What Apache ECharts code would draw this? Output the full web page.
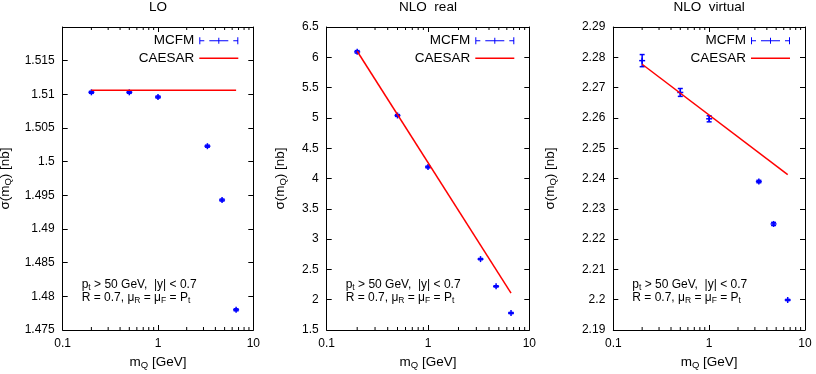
<!DOCTYPE html>
<html>
<head>
<meta charset="utf-8">
<script src="https://cdn.jsdelivr.net/npm/echarts@6/dist/echarts.min.js"></script>
<style>html,body{margin:0;padding:0;background:#fff;}</style>
</head>
<body>
<div id="chart" style="width:816px;height:374px;"></div>
<script>
    // data
    var mQ = [0.2, 0.5, 1, 3.3, 4.7, 6.6];
    var loMcfm = [1.5103, 1.5103, 1.5096, 1.5023, 1.4943, 1.4780];
    var loErr = [0.00015, 0.00015, 0.00015, 0.00015, 0.00015, 0.00015];
    var realMcfm = [6.09, 5.04, 4.19, 2.67, 2.22, 1.78];
    var realErr = [0.02, 0.015, 0.015, 0.01, 0.01, 0.01];
    var virtMcfm = [2.2789, 2.2684, 2.2597, 2.2390, 2.2250, 2.1999];
    var virtErr = [0.002, 0.0013, 0.001, 0.0004, 0.0005, 0.0002];
    var caesarX = [0.2, 6.6];
    var loCaesar = [1.5106, 1.5106];
    var realCaesar = [6.1, 2.11];
    var virtCaesar = [2.2777, 2.2413];
    var minorTicks = [0.2, 0.3, 0.4, 0.5, 0.6, 0.7, 0.8, 0.9, 2, 3, 4, 5, 6, 7, 8, 9];
    var panelTitles = ['LO', 'NLO  real', 'NLO  virtual'];
    var noteLines = [
        '{n|p}{s|t}{n| > 50 GeV,  |y| < 0.7}',
        '{n|R = 0.7, \u03bc}{s|R}{n| = \u03bc}{s|F}{n| = P}{s|t}'
    ];
    var yMins = [1.475, 1.5, 2.19];
    var yMaxs = [1.52, 6.5, 2.29];
    var ySteps = [0.005, 0.5, 0.01];

    // layout
    var gridLeft = [62.7, 326.7, 613.3];
    var gridWidth = [190.6, 202.6, 191.7];
    var nameGaps = [49, 38.4, 55];
    var FONT = 'Liberation Sans, Arial, Helvetica, sans-serif';
    var BLUE = '#0000ff', RED = '#ff0000';

    var mcfmIcon = 'path://M0,0h1v7h-1z M1,3h4v1h-4z M10,3h19v1h-19z M19,0.5h1v6h-1z M34,3h4v1h-4z M38,0h1v7h-1z';
    var caesarIcon = 'path://M0,0h39v1.5h-39z';

    var panels = [
        {y: loMcfm, err: loErr, c: loCaesar},
        {y: realMcfm, err: realErr, c: realCaesar},
        {y: virtMcfm, err: virtErr, c: virtCaesar}
    ];

    var subRich = {
        n: {fontSize: 13.5, fontFamily: FONT, color: '#000', lineHeight: 16},
        s: {fontSize: 9.5, fontFamily: FONT, color: '#000', lineHeight: 9, verticalAlign: 'bottom'}
    };
    var smallRich = {
        n: {fontSize: 12, fontFamily: FONT, color: '#000', lineHeight: 15},
        s: {fontSize: 8.5, fontFamily: FONT, color: '#000', lineHeight: 8, verticalAlign: 'bottom'}
    };

    function errorItem(params, api) {
        var x = api.value(0), y = api.value(1), e = api.value(2);
        var c = api.coord([x, y]);
        var hi = api.coord([x, y + e]);
        var lo = api.coord([x, y - e]);
        var w = 2.5, m = 3;
        var st = {stroke: BLUE, lineWidth: 1.5};
        return {type: 'group', children: [
            {type: 'line', shape: {x1: c[0], y1: hi[1], x2: c[0], y2: lo[1]}, style: st},
            {type: 'line', shape: {x1: c[0] - w, y1: hi[1], x2: c[0] + w, y2: hi[1]}, style: st},
            {type: 'line', shape: {x1: c[0] - w, y1: lo[1], x2: c[0] + w, y2: lo[1]}, style: st},
            {type: 'line', shape: {x1: c[0] - m, y1: c[1], x2: c[0] + m, y2: c[1]}, style: st},
            {type: 'line', shape: {x1: c[0], y1: c[1] - m, x2: c[0], y2: c[1] + m}, style: st}
        ]};
    }

    function minorTickItem(params, api) {
        var cs = params.coordSys;
        var px = api.coord([api.value(0), api.value(1)])[0];
        var st = {stroke: '#000', lineWidth: 1};
        return {type: 'group', children: [
            {type: 'line', shape: {x1: px, y1: cs.y + cs.height, x2: px, y2: cs.y + cs.height - 3}, style: st},
            {type: 'line', shape: {x1: px, y1: cs.y, x2: px, y2: cs.y + 3}, style: st}
        ]};
    }

    var grid = [], xAxis = [], yAxis = [], series = [], title = [], legend = [];
    var axisLine = {show: true, lineStyle: {color: '#000', width: 1}};
    var tickStyle = {show: true, inside: true, length: 5, lineStyle: {color: '#000', width: 1}};

    panels.forEach(function (p, i) {
        grid.push({left: gridLeft[i], width: gridWidth[i], top: 27, height: 303, outerBoundsMode: 'none', containLabel: false});
        xAxis[i] = {
            type: 'log', logBase: 10, min: 0.1, max: 10, gridIndex: i, position: 'bottom',
            axisLine: axisLine, axisTick: tickStyle, splitLine: {show: false},
            axisLabel: {fontSize: 12, fontFamily: FONT, color: '#000', margin: 8},
            name: '{n|m}{s|Q}{n| [GeV]}', nameLocation: 'middle', nameGap: 24,
            nameTextStyle: {rich: subRich}
        };
        xAxis[i + 3] = {
            type: 'log', logBase: 10, min: 0.1, max: 10, gridIndex: i, position: 'top',
            axisLine: axisLine, axisTick: tickStyle, splitLine: {show: false}, axisLabel: {show: false}
        };
        yAxis[i] = {
            type: 'value', min: yMins[i], max: yMaxs[i], interval: ySteps[i], gridIndex: i, position: 'left',
            axisLine: axisLine, axisTick: tickStyle, splitLine: {show: false},
            axisLabel: {fontSize: 12, fontFamily: FONT, color: '#000', margin: 8, showMaxLabel: i !== 0},
            name: '{n|\u03c3(m}{s|Q}{n|) [nb]}', nameLocation: 'middle', nameGap: nameGaps[i],
            nameTextStyle: {rich: subRich}
        };
        yAxis[i + 3] = {
            type: 'value', min: yMins[i], max: yMaxs[i], interval: ySteps[i], gridIndex: i, position: 'right',
            axisLine: axisLine, axisTick: tickStyle, splitLine: {show: false}, axisLabel: {show: false}
        };

        series.push({
            type: 'custom', name: 'ticks' + i, xAxisIndex: i, yAxisIndex: i, silent: true,
            renderItem: minorTickItem,
            data: minorTicks.map(function (t) { return [t, yMins[i]]; })
        });
        series.push({
            type: 'custom', name: 'MCFM', xAxisIndex: i, yAxisIndex: i,
            itemStyle: {color: BLUE}, renderItem: errorItem, encode: {x: 0, y: 1},
            data: mQ.map(function (x, k) { return [x, p.y[k], p.err[k]]; })
        });
        series.push({
            type: 'line', name: 'CAESAR', xAxisIndex: i, yAxisIndex: i,
            symbol: 'none', showSymbol: false,
            itemStyle: {color: RED}, lineStyle: {color: RED, width: 1.5},
            data: caesarX.map(function (x, k) { return [x, p.c[k]]; })
        });

        var cx = gridLeft[i] + gridWidth[i] / 2;
        title.push({
            text: panelTitles[i], left: cx, top: 0, textAlign: 'center', padding: 0,
            textStyle: {fontSize: 13.5, fontFamily: FONT, color: '#000', fontWeight: 'normal'}
        });
        noteLines.forEach(function (line, k) {
            title.push({
                text: line, left: gridLeft[i] + 19, top: 277.5 + k * 12.4, padding: 0,
                textStyle: {fontSize: 12, fontFamily: FONT, color: '#000', fontWeight: 'normal', rich: smallRich}
            });
        });

        var lr = 816 - (gridLeft[i] + gridWidth[i]) + 15;
        legend.push({
            data: [{name: 'MCFM', icon: mcfmIcon, itemStyle: {color: BLUE, borderWidth: 0}}],
            right: lr, top: 33.7, padding: 0, align: 'right', itemWidth: 39, itemHeight: 7,
            textStyle: {fontSize: 13.5, fontFamily: FONT, color: '#000', lineHeight: 14}
        });
        legend.push({
            data: [{name: 'CAESAR', icon: caesarIcon, itemStyle: {color: RED, borderWidth: 0}}],
            right: lr, top: 51.3, padding: 0, align: 'right', itemWidth: 39, itemHeight: 7,
            textStyle: {fontSize: 13.5, fontFamily: FONT, color: '#000', lineHeight: 14}
        });
    });

    var option = {
        backgroundColor: '#fff',
        animation: false,
        title: title,
        legend: legend,
        grid: grid,
        xAxis: xAxis,
        yAxis: yAxis,
        series: series
    };
    var chart = echarts.init(document.getElementById('chart'));
    chart.setOption(option);
    window.addEventListener('resize', function () {
        chart.resize();
    });
</script>
</body>
</html>
